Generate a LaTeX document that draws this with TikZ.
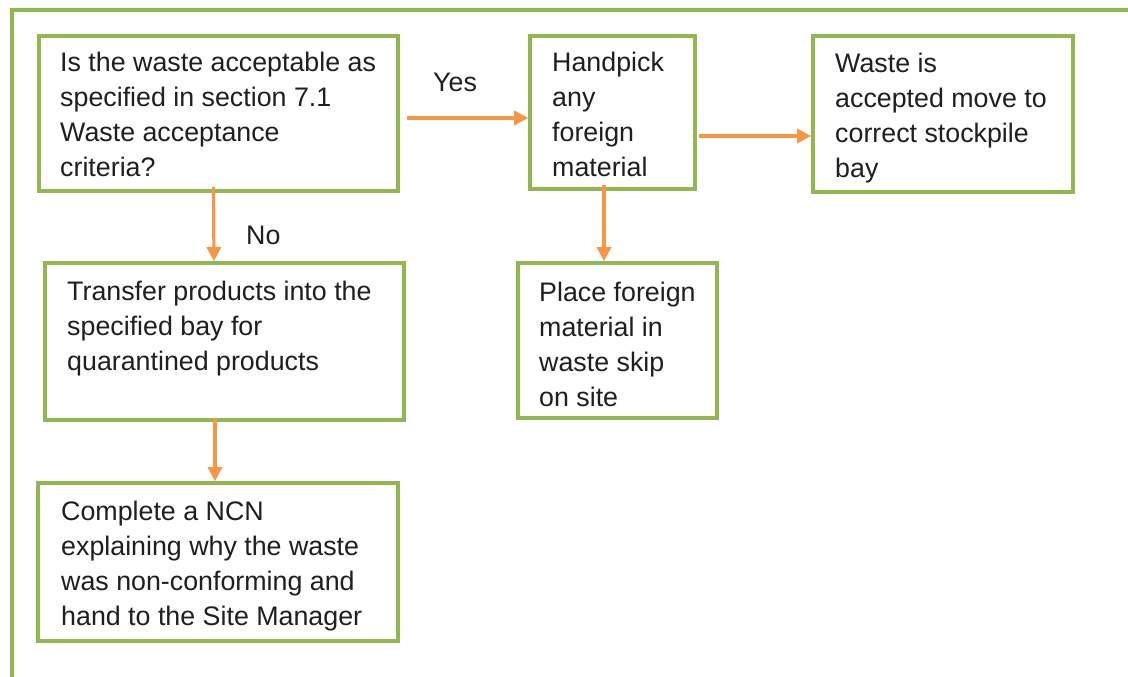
\documentclass[tikz,border=0pt]{standalone}
\usepackage{fontspec}
\setmainfont{Liberation Sans}
\usetikzlibrary{arrows.meta,calc}
\definecolor{boxgreen}{RGB}{146,183,80}
\definecolor{arrorange}{RGB}{247,150,70}
\tikzset{
  x=1pt, y=-1pt,
  box/.style={draw=boxgreen, line width=3.6pt, fill=white, inner sep=0pt},
  txt/.style={anchor=base west, inner sep=0pt, font=\fontsize{26.8}{35}\selectfont, text=black!88},
  lbl/.style={anchor=base west, inner sep=0pt, font=\fontsize{26.8}{35}\selectfont, text=black!88},
  flow/.style={draw=arrorange, line width=3.2pt, -{Triangle[length=14pt,width=14pt]}},
  frame/.style={draw=boxgreen, line width=3.2pt}
}
\newcommand{\boxtext}[2]{\parbox[t]{#1pt}{\raggedright #2}}
\begin{document}
\begin{tikzpicture}
\useasboundingbox (0,0) rectangle (1128,677);
\fill[white] (0,0) rectangle (1128,677);
\draw[frame] (12,680) -- (12,10) -- (1130,10);

% boxes
\node[box, minimum width=359pt, minimum height=155pt] (q) at (218.5,113.5) {};
\node[box, minimum width=165pt, minimum height=153pt] (h) at (612.5,112.5) {};
\node[box, minimum width=260pt, minimum height=156pt] (w) at (943,114) {};
\node[box, minimum width=359pt, minimum height=157pt] (t) at (224.5,341.5) {};
\node[box, minimum width=199pt, minimum height=155pt] (p) at (617.5,340.5) {};
\node[box, minimum width=360pt, minimum height=158pt] (c) at (218,562) {};

% texts
\node[txt] (qt) at (60,72) {\boxtext{340}{Is the waste acceptable as\\specified in section 7.1\\Waste acceptance\\criteria?}};
\node[txt] (ht) at (552,72) {\boxtext{150}{Handpick\\any\\foreign\\material}};
\node[txt] (wt) at (835,73) {\boxtext{240}{Waste is\\accepted move to\\correct stockpile\\bay}};
\node[txt] (tt) at (67,300) {\boxtext{340}{Transfer products into the\\specified bay for\\quarantined products}};
\node[txt] (pt) at (539,301) {\boxtext{180}{Place foreign\\material in\\waste skip\\on site}};
\node[txt] (ct) at (61,520) {\boxtext{340}{Complete a NCN\\explaining why the waste\\was non-conforming and\\hand to the Site Manager}};

% labels
\node[lbl] (yes) at (433,92) {Yes};
\node[lbl] (no) at (246,244) {No};

% connectors
\draw[flow] ([xshift=7pt,yshift=-4.5pt]q.east) -- ([yshift=-5.5pt]h.west);
\draw[flow] ([xshift=2pt,yshift=-23.5pt]h.east) -- ([yshift=-22pt]w.west);
\draw[flow] ([xshift=-5pt,yshift=6pt]q.south) -- ([xshift=-10.5pt]t.north);
\draw[flow] ([xshift=-8.5pt,yshift=6pt]h.south) -- ([xshift=-13.5pt]p.north);
\draw[flow] ([xshift=-9.5pt,yshift=3pt]t.south) -- ([xshift=-3pt]c.north);
\end{tikzpicture}
\end{document}
